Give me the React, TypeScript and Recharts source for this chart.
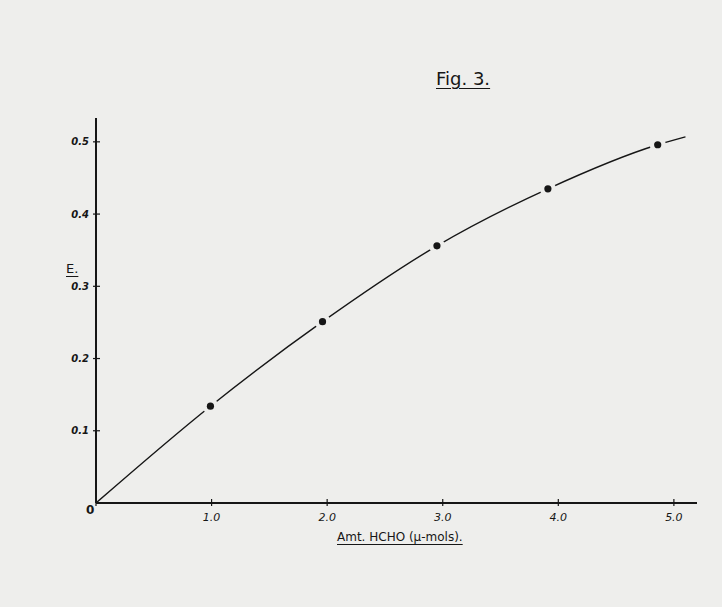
import { ComposedChart, Line, Scatter, XAxis, YAxis } from 'recharts';

const pointX = [0.99, 1.96, 2.95, 3.91, 4.86];
const pointY = [0.134, 0.251, 0.356, 0.435, 0.496];

// hand-drawn curve through the origin, running a little past the last point
const curveX = [0, 0.99, 1.96, 2.95, 3.91, 4.86, 5.1];
const curveY = [0, 0.134, 0.251, 0.356, 0.435, 0.496, 0.507];

const xTicks = [0, 1, 2, 3, 4, 5];
const yTicks = [0.1, 0.2, 0.3, 0.4, 0.5];

const PAPER = '#eeeeec';
const INK = '#161616';
const FONT = '"DejaVu Sans", sans-serif';

const points = pointX.map((x, i) => ({ x, y: pointY[i] }));
const curve = curveX.map((x, i) => ({ x, y: curveY[i] }));

const Dot = (props: any) => (
  <g>
    <circle cx={props.cx} cy={props.cy} r={8} fill={PAPER} />
    <circle cx={props.cx} cy={props.cy} r={3.6} fill={INK} />
  </g>
);

const underlined = {
  position: 'absolute' as const,
  fontFamily: FONT,
  color: INK,
  textDecoration: 'underline',
  textUnderlineOffset: 3,
  whiteSpace: 'nowrap' as const,
};

export default function App() {
  return (
    <div
      style={{
        position: 'absolute',
        left: 0,
        top: 0,
        width: 722,
        height: 607,
        background: PAPER,
        overflow: 'hidden',
      }}
    >
      <ComposedChart
        width={722}
        height={607}
        margin={{ top: 118, right: 25, bottom: 74, left: 50 }}
      >
        <XAxis
          type="number"
          dataKey="x"
          domain={[0, 5.2]}
          ticks={xTicks}
          tickFormatter={(v: number) => (v === 0 ? '' : v.toFixed(1))}
          axisLine={{ stroke: INK, strokeWidth: 2 }}
          tickLine={{ stroke: INK, strokeWidth: 1.2, transform: 'translate(0,-4)' }}
          tickSize={7}
          tickMargin={3}
          height={30}
          tick={{ fontSize: 11, fill: INK, fontFamily: FONT, fontStyle: 'italic' }}
          allowDataOverflow
        />
        <YAxis
          type="number"
          dataKey="y"
          domain={[0, 0.533]}
          ticks={yTicks}
          axisLine={{ stroke: INK, strokeWidth: 2 }}
          tickLine={{ stroke: INK, strokeWidth: 1.2, transform: 'translate(4,0)' }}
          tickSize={7}
          tickMargin={0}
          width={46}
          tick={{ fontSize: 10, fill: INK, fontFamily: FONT, fontStyle: 'italic', fontWeight: 'bold' }}
          allowDataOverflow
        />
        <Line
          data={curve}
          dataKey="y"
          type="monotone"
          stroke={INK}
          strokeWidth={1.4}
          dot={false}
          activeDot={false}
          isAnimationActive={false}
        />
        <Scatter data={points} dataKey="y" shape={Dot} isAnimationActive={false} />
      </ComposedChart>

      <div style={{ ...underlined, left: 436, top: 68, fontSize: 18 }}>Fig. 3.</div>
      <div style={{ ...underlined, left: 66, top: 261, fontSize: 13 }}>E.</div>
      <div style={{ ...underlined, left: 86, top: 503, fontSize: 12, fontWeight: 'bold', textDecoration: 'none' }}>0</div>
      <div style={{ ...underlined, left: 337, top: 530, fontSize: 12 }}>Amt. HCHO (µ-mols).</div>
    </div>
  );
}
